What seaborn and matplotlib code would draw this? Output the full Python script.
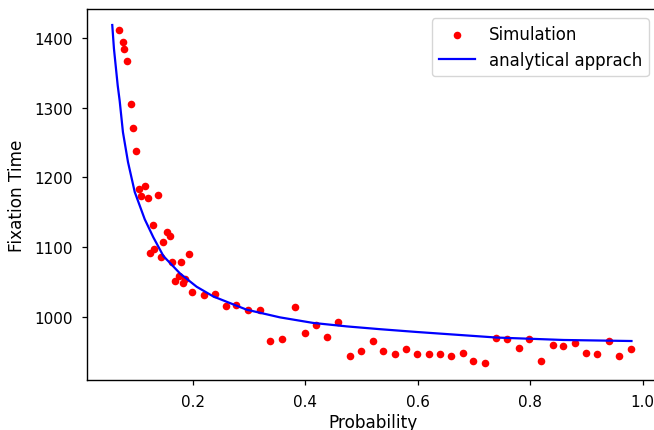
import matplotlib
matplotlib.use("Agg")
import matplotlib.pyplot as plt
import seaborn as sns
import pandas as pd

# Simulation points (probability, fixation time)
sim_p = [0.069, 0.0755, 0.078, 0.084, 0.090, 0.093, 0.099,
         0.105, 0.108, 0.1147, 0.12, 0.124, 0.1294, 0.132, 0.138, 0.144, 0.148,
         0.1538, 0.160, 0.163, 0.1685, 0.175, 0.179, 0.183, 0.186, 0.193, 0.199,
         0.22, 0.239, 0.259, 0.2775, 0.299, 0.32, 0.338, 0.359, 0.381, 0.399,
         0.42, 0.438, 0.459, 0.48, 0.499, 0.52, 0.538, 0.559, 0.58, 0.599,
         0.62, 0.64, 0.659, 0.68, 0.699, 0.719, 0.74, 0.759, 0.78, 0.798,
         0.819, 0.84, 0.859, 0.88, 0.90, 0.919, 0.94, 0.958, 0.98]
sim_t = [1412, 1395, 1385, 1368, 1305, 1271, 1238,
         1183, 1174, 1188, 1171, 1092, 1131, 1097, 1175, 1085, 1107,
         1121, 1116, 1079, 1051, 1058, 1078, 1048, 1054, 1090, 1036,
         1031, 1032, 1015, 1017, 1010, 1010, 965, 968, 1014, 977,
         988, 971, 993, 943, 951, 965, 951, 946, 953, 946,
         946, 946, 943, 948, 936, 933, 970, 968, 955, 968,
         936, 960, 958, 962, 948, 946, 965, 943, 953]

# Analytical curve
ana_p = [0.057, 0.060, 0.0667, 0.0702, 0.076, 0.085, 0.097, 0.1147, 0.13,
         0.148, 0.1775, 0.207, 0.2367, 0.296, 0.355, 0.414, 0.474, 0.533,
         0.598, 0.74, 0.859, 0.98]
ana_t = [1419, 1385, 1332, 1310, 1265, 1222, 1179, 1140, 1114,
         1087, 1062, 1043, 1029, 1010, 999, 991, 986, 982,
         978, 970, 966.5, 965]

x_ticks = [0.2, 0.4, 0.6, 0.8, 1.0]
x_tick_labels = ["0.2", "0.4", "0.6", "0.8", "1.0"]
y_ticks = [1000, 1100, 1200, 1300, 1400]

sim_df = pd.DataFrame({"p": sim_p, "t": sim_t})
ana_df = pd.DataFrame({"p": ana_p, "t": ana_t})

plt.rcParams["font.family"] = ["DejaVu Sans"]

fig = plt.figure(figsize=(6.54, 4.31), dpi=100)
ax = fig.add_axes([87 / 654, 1 - 381 / 431, (660 - 87) / 654, (381 - 10) / 431])

sns.scatterplot(data=sim_df, x="p", y="t", ax=ax, color="#ff0000", s=30,
                linewidth=0, label="Simulation", zorder=2)
sns.lineplot(data=ana_df, x="p", y="t", ax=ax, color="#0000ff", linewidth=1.6,
             label="analytical apprach", zorder=3)

ax.set_xlim(0.0121, 1.0307)
ax.set_ylim(909, 1442)
ax.set_xticks(x_ticks)
ax.set_xticklabels(x_tick_labels)
ax.set_yticks(y_ticks)
ax.set_xlabel("Probability", fontsize=12.2, labelpad=2.5)
ax.set_ylabel("Fixation Time", fontsize=12.2, labelpad=6)
ax.tick_params(direction="out", length=3.8, width=0.9, colors="black",
               labelsize=10.9, pad=6.5)
for s in ax.spines.values():
    s.set_color("black")
    s.set_linewidth(1.0)
ax.spines["right"].set_visible(False)

h, l = ax.get_legend_handles_labels()
ax.legend(h, l, loc="upper right", frameon=True, fontsize=12, handlelength=2.2,
          bbox_to_anchor=(648.5 / 654, 1 - 19.3 / 431),
          bbox_transform=fig.transFigure, borderaxespad=0)

fig.savefig("out.png", dpi=100)
